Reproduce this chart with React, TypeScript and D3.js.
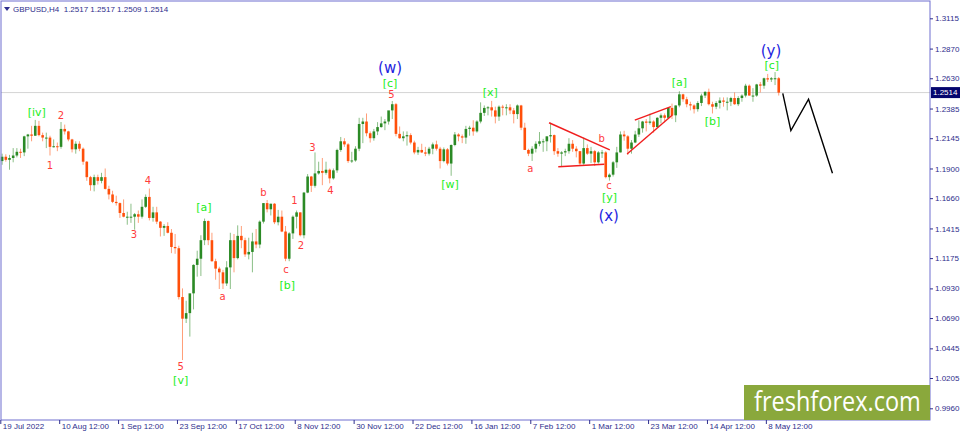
import { useEffect, useRef } from 'react';
import * as d3 from 'd3';

// GBPUSD daily bars, 19 Jul 2022 .. 11 May 2023 (26 Dec has no bar)
const opens = [
  1.1960, 1.1995, 1.1970, 1.1985, 1.2005, 1.2035, 1.2030, 1.2160, 1.2175,
  1.2165, 1.2245, 1.2170, 1.2150, 1.2150, 1.2075, 1.2080, 1.2075, 1.2220, 1.2200, 1.2135, 1.2055, 1.2100, 1.2060, 1.1955, 1.1830, 1.1765, 1.1830, 1.1800, 1.1830, 1.1735, 1.1690, 1.1630,
  1.1620, 1.1540, 1.1510, 1.1510, 1.1510, 1.1530, 1.1510, 1.1590, 1.1670, 1.1500, 1.1545, 1.1470, 1.1420, 1.1435, 1.1380, 1.1265, 1.1255, 1.0860, 1.0685, 1.0730, 1.0890, 1.1120,
  1.1170, 1.1320, 1.1475, 1.1320, 1.1150, 1.1090, 1.1060, 1.0970, 1.1100, 1.1320, 1.1175, 1.1355, 1.1320, 1.1205, 1.1225, 1.1310, 1.1285, 1.1470, 1.1620, 1.1570, 1.1615,
  1.1465, 1.1510, 1.1390, 1.1170, 1.1375, 1.1510, 1.1545, 1.1360, 1.1705, 1.1835, 1.1760, 1.1860, 1.1880, 1.1865, 1.1890, 1.1820, 1.1885, 1.2050, 1.2120, 1.2095, 1.1960, 1.1965,
  1.2060, 1.2260, 1.2280, 1.2185, 1.2145, 1.2200, 1.2235, 1.2265, 1.2280, 1.2370, 1.2420, 1.2180, 1.2145, 1.2160, 1.2170, 1.2110, 1.2030, 1.2050, 1.2030, 1.2020, 1.2060,
  1.2095, 1.2060, 1.1960, 1.2055, 1.1940, 1.2090, 1.2175, 1.2160, 1.2150, 1.2220, 1.2230, 1.2200, 1.2280, 1.2350, 1.2390, 1.2395, 1.2370, 1.2320, 1.2400, 1.2395, 1.2395, 1.2370,
  1.2340, 1.2410, 1.2230, 1.2050, 1.2020, 1.2060, 1.2100, 1.2120, 1.2120, 1.2160, 1.2170, 1.2040, 1.2020, 1.2030, 1.2040, 1.2100, 1.2060, 1.2040, 1.1940, 1.2065,
  1.2020, 1.2040, 1.1950, 1.2030, 1.2030, 1.1830, 1.1850, 1.1950, 1.2030, 1.2175, 1.2160, 1.2060, 1.2110, 1.2175, 1.2225, 1.2280, 1.2270, 1.2280, 1.2235, 1.2310, 1.2330, 1.2310, 1.2390,
  1.2330, 1.2410, 1.2500, 1.2460, 1.2420, 1.2410, 1.2380, 1.2430, 1.2490, 1.2520, 1.2420, 1.2400, 1.2430, 1.2450, 1.2440, 1.2440, 1.2470, 1.2420, 1.2470, 1.2490,
  1.2570, 1.2490, 1.2490, 1.2580, 1.2570, 1.2630, 1.2620, 1.2630, 1.2630,
];
const highs = [
  1.2020, 1.2015, 1.2010, 1.2065, 1.2065, 1.2060, 1.2165, 1.2180, 1.2245,
  1.2293, 1.2285, 1.2190, 1.2190, 1.2165, 1.2135, 1.2110, 1.2276, 1.2255, 1.2205, 1.2140, 1.2120, 1.2120, 1.2070, 1.1960, 1.1840, 1.1850, 1.1850, 1.1865, 1.1900, 1.1760, 1.1720, 1.1680,
  1.1625, 1.1650, 1.1550, 1.1615, 1.1540, 1.1560, 1.1650, 1.1690, 1.1738, 1.1590, 1.1590, 1.1475, 1.1450, 1.1465, 1.1410, 1.1370, 1.1275, 1.0930, 1.0830, 1.0880, 1.1125, 1.1235,
  1.1360, 1.1495, 1.1480, 1.1380, 1.1170, 1.1105, 1.1080, 1.1150, 1.1380, 1.1370, 1.1440, 1.1435, 1.1340, 1.1340, 1.1380, 1.1410, 1.1480, 1.1620, 1.1645, 1.1615, 1.1620,
  1.1565, 1.1560, 1.1435, 1.1385, 1.1520, 1.1560, 1.1545, 1.1710, 1.1855, 1.1840, 1.2030, 1.1955, 1.1985, 1.1955, 1.1900, 1.1900, 1.2060, 1.2155, 1.2145, 1.2105, 1.2035, 1.2080,
  1.2310, 1.2310, 1.2345, 1.2200, 1.2220, 1.2275, 1.2320, 1.2300, 1.2345, 1.2446, 1.2430, 1.2240, 1.2200, 1.2200, 1.2185, 1.2125, 1.2075, 1.2100, 1.2075, 1.2075, 1.2110,
  1.2125, 1.2075, 1.2070, 1.2065, 1.2095, 1.2195, 1.2185, 1.2175, 1.2245, 1.2245, 1.2290, 1.2290, 1.2435, 1.2410, 1.2405, 1.2447, 1.2400, 1.2410, 1.2415, 1.2420, 1.2420, 1.2390,
  1.2418, 1.2415, 1.2270, 1.2060, 1.2080, 1.2120, 1.2195, 1.2140, 1.2160, 1.2270, 1.2175, 1.2065, 1.2040, 1.2060, 1.2145, 1.2130, 1.2080, 1.2040, 1.2150, 1.2095,
  1.2075, 1.2050, 1.2040, 1.2050, 1.2040, 1.1860, 1.1960, 1.2075, 1.2200, 1.2205, 1.2170, 1.2130, 1.2205, 1.2290, 1.2285, 1.2300, 1.2344, 1.2290, 1.2315, 1.2345, 1.2345, 1.2390, 1.2425,
  1.2410, 1.2525, 1.2505, 1.2480, 1.2440, 1.2420, 1.2445, 1.2505, 1.2525, 1.2546, 1.2440, 1.2445, 1.2475, 1.2475, 1.2475, 1.2480, 1.2515, 1.2485, 1.2500, 1.2585,
  1.2580, 1.2550, 1.2585, 1.2600, 1.2635, 1.2665, 1.2640, 1.2680, 1.2640,
];
const lows = [
  1.1930, 1.1955, 1.1890, 1.1950, 1.1990, 1.1985, 1.2000, 1.2060, 1.2120,
  1.2165, 1.2160, 1.2120, 1.2065, 1.2005, 1.2070, 1.2040, 1.2060, 1.2175, 1.2120, 1.2030, 1.2020, 1.2040, 1.1930, 1.1800, 1.1720, 1.1715, 1.1770, 1.1780, 1.1730, 1.1650, 1.1620, 1.1600,
  1.1500, 1.1505, 1.1445, 1.1460, 1.1405, 1.1460, 1.1495, 1.1580, 1.1480, 1.1470, 1.1450, 1.1350, 1.1355, 1.1375, 1.1215, 1.1210, 1.0840, 1.0350, 1.0650, 1.0540, 1.0760, 1.1025,
  1.1030, 1.1280, 1.1280, 1.1145, 1.1000, 1.0925, 1.0925, 1.0950, 1.0925, 1.1060, 1.1165, 1.1255, 1.1185, 1.1165, 1.1060, 1.1255, 1.1255, 1.1455, 1.1545, 1.1520, 1.1450,
  1.1440, 1.1385, 1.1150, 1.1150, 1.1330, 1.1415, 1.1350, 1.1335, 1.1700, 1.1710, 1.1745, 1.1850, 1.1765, 1.1850, 1.1780, 1.1810, 1.1865, 1.2035, 1.2075, 1.1945, 1.1945, 1.1955,
  1.2040, 1.2105, 1.2160, 1.2110, 1.2125, 1.2170, 1.2230, 1.2210, 1.2255, 1.2300, 1.2160, 1.2140, 1.2120, 1.2085, 1.2095, 1.2015, 1.2010, 1.2025, 1.2000, 1.2005, 1.2015,
  1.2045, 1.1900, 1.1950, 1.1925, 1.1841, 1.2080, 1.2120, 1.2105, 1.2100, 1.2165, 1.2165, 1.2190, 1.2265, 1.2325, 1.2330, 1.2320, 1.2265, 1.2285, 1.2330, 1.2330, 1.2340, 1.2265,
  1.2300, 1.2210, 1.2050, 1.2000, 1.1961, 1.2030, 1.2080, 1.2035, 1.2040, 1.2110, 1.2010, 1.1995, 1.1915, 1.2000, 1.2020, 1.2035, 1.1990, 1.1925, 1.1930, 1.2010,
  1.1945, 1.1920, 1.1940, 1.1985, 1.1820, 1.1802, 1.1835, 1.1905, 1.2030, 1.2125, 1.2010, 1.2020, 1.2105, 1.2155, 1.2190, 1.2200, 1.2255, 1.2190, 1.2230, 1.2265, 1.2275, 1.2300, 1.2300,
  1.2275, 1.2395, 1.2440, 1.2395, 1.2370, 1.2345, 1.2360, 1.2405, 1.2470, 1.2410, 1.2345, 1.2380, 1.2385, 1.2400, 1.2370, 1.2405, 1.2415, 1.2405, 1.2440, 1.2475,
  1.2490, 1.2440, 1.2480, 1.2515, 1.2545, 1.2600, 1.2600, 1.2575, 1.2490,
];
const closes = [
  1.1995, 1.1970, 1.1985, 1.2005, 1.2035, 1.2030, 1.2160, 1.2175, 1.2165,
  1.2245, 1.2170, 1.2150, 1.2150, 1.2075, 1.2080, 1.2075, 1.2220, 1.2200, 1.2135, 1.2055, 1.2100, 1.2060, 1.1955, 1.1830, 1.1765, 1.1830, 1.1800, 1.1830, 1.1735, 1.1690, 1.1630, 1.1620,
  1.1540, 1.1510, 1.1510, 1.1510, 1.1530, 1.1510, 1.1590, 1.1670, 1.1500, 1.1545, 1.1470, 1.1420, 1.1435, 1.1380, 1.1265, 1.1255, 1.0860, 1.0685, 1.0730, 1.0890, 1.1120, 1.1170,
  1.1320, 1.1475, 1.1320, 1.1150, 1.1090, 1.1060, 1.0970, 1.1100, 1.1320, 1.1175, 1.1355, 1.1320, 1.1205, 1.1225, 1.1310, 1.1285, 1.1470, 1.1620, 1.1570, 1.1615, 1.1465,
  1.1510, 1.1390, 1.1170, 1.1375, 1.1510, 1.1545, 1.1360, 1.1705, 1.1835, 1.1760, 1.1860, 1.1880, 1.1865, 1.1890, 1.1820, 1.1885, 1.2050, 1.2120, 1.2095, 1.1960, 1.1965, 1.2060,
  1.2260, 1.2280, 1.2185, 1.2145, 1.2200, 1.2235, 1.2265, 1.2280, 1.2370, 1.2420, 1.2180, 1.2145, 1.2160, 1.2170, 1.2110, 1.2030, 1.2050, 1.2030, 1.2020, 1.2060, 1.2095,
  1.2060, 1.1960, 1.2055, 1.1940, 1.2090, 1.2175, 1.2160, 1.2150, 1.2220, 1.2230, 1.2200, 1.2280, 1.2350, 1.2390, 1.2395, 1.2370, 1.2320, 1.2400, 1.2395, 1.2395, 1.2370, 1.2340,
  1.2410, 1.2230, 1.2050, 1.2020, 1.2060, 1.2100, 1.2120, 1.2120, 1.2160, 1.2170, 1.2040, 1.2020, 1.2030, 1.2040, 1.2100, 1.2060, 1.2040, 1.1940, 1.2065, 1.2020,
  1.2040, 1.1950, 1.2030, 1.2030, 1.1830, 1.1850, 1.1950, 1.2030, 1.2175, 1.2160, 1.2060, 1.2110, 1.2175, 1.2225, 1.2280, 1.2270, 1.2280, 1.2235, 1.2310, 1.2330, 1.2310, 1.2390, 1.2330,
  1.2410, 1.2500, 1.2460, 1.2420, 1.2410, 1.2380, 1.2430, 1.2490, 1.2520, 1.2420, 1.2400, 1.2430, 1.2450, 1.2440, 1.2440, 1.2470, 1.2420, 1.2470, 1.2490, 1.2570,
  1.2490, 1.2490, 1.2580, 1.2570, 1.2630, 1.2620, 1.2630, 1.2630, 1.2514,
];

const lastPrice = 1.2514;
const titleText = 'GBPUSD,H4  1.2517 1.2517 1.2509 1.2514';

const priceTicks = [1.3115, 1.2870, 1.2630, 1.2385, 1.2145, 1.1900, 1.1660, 1.1415, 1.1175, 1.0930, 1.0690, 1.0445, 1.0205, 0.9960];
const timeTickDays = [0, 16, 32, 48, 64, 80, 96, 112, 128, 144, 160, 176, 192, 208];
const timeTickLabels = ['19 Jul 2022', '10 Aug 12:00', '1 Sep 12:00', '23 Sep 12:00', '17 Oct 12:00', '8 Nov 12:00', '30 Nov 12:00', '22 Dec 12:00', '16 Jan 12:00', '7 Feb 12:00', '1 Mar 12:00', '23 Mar 12:00', '14 Apr 12:00', '8 May 12:00'];

// wave labels: text, bar position, price, degree
const labelText = ['1', '2', '3', '4', '5', 'a', 'b', 'c', '1', '2', '3', '4', '5', 'a', 'b', 'c',
  '[iv]', '[v]', '[a]', '[b]', '[c]', '[w]', '[x]', '[y]', '[a]', '[b]', '[c]',
  '(w)', '(x)', '(y)'];
const labelDay = [13.0, 16.0, 35.8, 39.6, 48.5, 59.9, 71.0, 77.1, 79.4, 81.2, 84.3, 89.2, 105.8, 143.5, 162.9, 164.9,
  9.4, 48.5, 54.8, 77.5, 105.4, 121.7, 132.6, 165.0, 184.0, 193.0, 209.1,
  105.4, 164.8, 208.9];
const labelPrice = [1.1928, 1.2325, 1.1370, 1.1799, 1.0296, 1.0863, 1.1704, 1.1084, 1.1639, 1.1281, 1.2071, 1.1720, 1.2500, 1.1901, 1.2144, 1.1760,
  1.2359, 1.0189, 1.1591, 1.0957, 1.2594, 1.1774, 1.2521, 1.1672, 1.2597, 1.2287, 1.2737,
  1.2715, 1.1520, 1.2850];
const labelDegree = ['minute', 'minute', 'minute', 'minute', 'minute', 'minute', 'minute', 'minute', 'minute', 'minute', 'minute', 'minute', 'minute', 'minute', 'minute', 'minute',
  'minor', 'minor', 'minor', 'minor', 'minor', 'minor', 'minor', 'minor', 'minor', 'minor', 'minor',
  'intermediate', 'intermediate', 'intermediate'];

// drawn lines: triangle, wedge (red) and forecast (black)
const triangleUpper: [number, number][] = [[148.6, 1.2270], [165.1, 1.2050]];
const triangleLower: [number, number][] = [[151.1, 1.1914], [163.6, 1.1934]];
const wedgeUpper: [number, number][] = [[171.9, 1.2292], [181.7, 1.2400]];
const wedgeLower: [number, number][] = [[169.8, 1.2017], [182.1, 1.2333]];
const forecast: [number, number][] = [[212.1, 1.2508], [214.3, 1.2206], [219.1, 1.2460], [225.6, 1.1861]];

const W = 960;
const H = 431;

const App = () => {
  const svgRef = useRef<SVGSVGElement>(null);

  useEffect(() => {
    if (!svgRef.current) return;
    const svg = d3.select(svgRef.current);
    svg.selectAll('*').remove();

    const plotLeft = 1;
    const plotRight = 930;
    const plotTop = 1;
    const plotBottom = 420;
    const font = '"Liberation Sans", Arial, sans-serif';
    const axisColor = '#2e2e8c';

    const x = d3.scaleLinear().domain([0, 252.6]).range([0.3, plotRight]);
    const y = d3.scaleLinear().domain([0.9960, 1.3115]).range([408.3, 18.3]);
    const cx = (i: number) => x(i + 0.5);

    svg.append('rect').attr('width', W).attr('height', H).attr('fill', '#fff');

    // current price line
    svg.append('line')
      .attr('x1', plotLeft).attr('x2', plotRight)
      .attr('y1', y(lastPrice)).attr('y2', y(lastPrice))
      .attr('stroke', '#d4d4d4').attr('stroke-width', 1);

    // candles
    const bars = d3.range(closes.length);
    const g = svg.append('g');
    g.selectAll('.wick')
      .data(bars)
      .enter()
      .append('line')
      .attr('x1', d => cx(d)).attr('x2', d => cx(d))
      .attr('y1', d => y(highs[d])).attr('y2', d => y(lows[d]))
      .attr('stroke', d => closes[d] >= opens[d] ? '#2b8a25' : '#ff4f0a')
      .attr('stroke-opacity', 0.55)
      .attr('stroke-width', 1);
    g.selectAll('.body')
      .data(bars)
      .enter()
      .append('rect')
      .attr('x', d => cx(d) - 1.3)
      .attr('width', 2.6)
      .attr('y', d => y(Math.max(opens[d], closes[d])))
      .attr('height', d => Math.max(1, Math.abs(y(opens[d]) - y(closes[d]))))
      .attr('fill', d => closes[d] >= opens[d] ? '#2b8a25' : '#ff4f0a');

    // patterns and forecast
    const line = d3.line<[number, number]>().x(d => cx(d[0])).y(d => y(d[1]));
    [triangleUpper, triangleLower, wedgeUpper, wedgeLower].forEach(seg => {
      svg.append('path').attr('d', line(seg)).attr('fill', 'none')
        .attr('stroke', '#f01e1e').attr('stroke-width', 1.4);
    });
    svg.append('path').attr('d', line(forecast)).attr('fill', 'none')
      .attr('stroke', '#000').attr('stroke-width', 1.4);

    // wave labels
    const degreeStyle: Record<string, { color: string; size: number }> = {
      minute: { color: '#ff3b3b', size: 10 },
      minor: { color: '#22ee22', size: 11 },
      intermediate: { color: '#1f1fe0', size: 15 },
    };
    svg.selectAll('.wave')
      .data(labelText.map((t, i) => i))
      .enter()
      .append('text')
      .attr('x', i => cx(labelDay[i]))
      .attr('y', i => y(labelPrice[i]))
      .attr('dy', '0.35em')
      .attr('text-anchor', 'middle')
      .attr('font-family', '"DejaVu Sans", sans-serif')
      .attr('font-size', i => degreeStyle[labelDegree[i]].size)
      .attr('fill', i => degreeStyle[labelDegree[i]].color)
      .text(i => labelText[i]);

    // frame
    svg.append('rect')
      .attr('x', plotLeft).attr('y', plotTop)
      .attr('width', plotRight - plotLeft).attr('height', plotBottom - plotTop)
      .attr('fill', 'none').attr('stroke', '#6f6fcf').attr('stroke-width', 1);

    // logo
    svg.append('rect').attr('x', 744).attr('y', 385).attr('width', 186).attr('height', 35).attr('fill', '#8aa83c');
    svg.append('text')
      .attr('transform', 'translate(754,411) scale(0.84,1)')
      .attr('font-family', '"Open Sans", "DejaVu Sans", sans-serif')
      .attr('font-size', 28)
      .attr('fill', '#fff')
      .text('freshforex.com');

    // price axis
    const yAxis = svg.append('g')
      .attr('transform', `translate(${plotRight},0)`)
      .call(d3.axisRight(y).tickValues(priceTicks).tickFormat(d3.format('.4f')).tickSize(3).tickPadding(2));
    yAxis.select('.domain').remove();
    yAxis.selectAll('line').attr('stroke', axisColor);
    yAxis.selectAll('text').attr('font-family', font).attr('font-size', 8).attr('fill', axisColor);

    // last price tag
    svg.append('rect').attr('x', plotRight + 1).attr('y', y(lastPrice) - 5.5).attr('width', 29).attr('height', 11).attr('fill', '#05056e');
    svg.append('text')
      .attr('x', plotRight + 3).attr('y', y(lastPrice)).attr('dy', '0.35em')
      .attr('font-family', font).attr('font-size', 8).attr('fill', '#fff')
      .text(d3.format('.4f')(lastPrice));

    // time axis
    const xAxis = svg.append('g')
      .attr('transform', `translate(0,${plotBottom})`)
      .call(d3.axisBottom(x).tickValues(timeTickDays).tickFormat((d, i) => timeTickLabels[i]).tickSize(4));
    xAxis.select('.domain').remove();
    xAxis.selectAll('line').attr('stroke', axisColor);
    xAxis.selectAll('text')
      .attr('font-family', font).attr('font-size', 8).attr('fill', axisColor)
      .attr('text-anchor', 'start').attr('x', 2).attr('y', 3).attr('dy', '0.71em');

    // title
    svg.append('path').attr('d', 'M4,7 L10,7 L7,11 Z').attr('fill', axisColor);
    svg.append('text')
      .attr('x', 13).attr('y', 11.5)
      .attr('font-family', font).attr('font-size', 8).attr('fill', axisColor)
      .attr('xml:space', 'preserve')
      .style('white-space', 'pre')
      .text(titleText);
  }, []);

  return <svg ref={svgRef} width={W} height={H} style={{ position: 'absolute', left: 0, top: 0 }} />;
};

export default App;
